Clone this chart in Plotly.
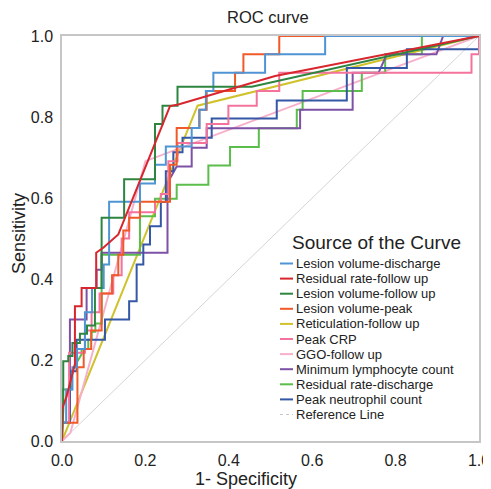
import plotly.graph_objects as go

# ---------------- data ----------------
names = ["Lesion volume-discharge", "Residual rate-follow up", "Lesion volume-follow up",
         "Lesion volume-peak", "Reticulation-follow up", "Peak CRP", "GGO-follow up",
         "Minimum lymphocyte count", "Residual rate-discharge", "Peak neutrophil count"]
colors = ["#4f94d4", "#d7262e", "#2e8540", "#f05a28", "#cfc22b",
          "#f4739c", "#f7b0cc", "#7d52a6", "#5bbd4b", "#3457a6"]

lv_dis_x = [0, 0, 0.01, 0.01, 0.025, 0.025, 0.036, 0.036, 0.055, 0.055, 0.072, 0.072, 0.1, 0.1,
            0.113, 0.113, 0.187, 0.187, 0.223, 0.223, 0.249, 0.249, 0.311, 0.311, 0.33, 0.33,
            0.345, 0.345, 0.363, 0.363, 0.487, 0.487, 0.631, 0.631, 1]
lv_dis_y = [0, 0.045, 0.045, 0.127, 0.127, 0.182, 0.182, 0.227, 0.227, 0.318, 0.318, 0.378, 0.378, 0.436,
            0.436, 0.591, 0.591, 0.636, 0.636, 0.682, 0.682, 0.727, 0.727, 0.773, 0.773, 0.818,
            0.818, 0.864, 0.864, 0.909, 0.909, 0.955, 0.955, 1, 1]

res_fu_x = [0, 0, 0.011, 0.031, 0.031, 0.047, 0.047, 0.082, 0.082, 0.099, 0.135, 0.259, 0.279, 0.511, 1]
res_fu_y = [0, 0.078, 0.11, 0.19, 0.333, 0.333, 0.378, 0.378, 0.465, 0.477, 0.51, 0.827, 0.831, 0.901, 1]

lv_fu_x = [0, 0.003, 0.003, 0.015, 0.015, 0.025, 0.025, 0.043, 0.043, 0.06, 0.06, 0.079, 0.079,
           0.095, 0.095, 0.149, 0.149, 0.223, 0.223, 0.241, 0.241, 0.277, 0.277, 0.455, 1]
lv_fu_y = [0, 0.078, 0.197, 0.197, 0.21, 0.21, 0.242, 0.242, 0.265, 0.265, 0.285, 0.285, 0.378,
           0.378, 0.551, 0.551, 0.646, 0.646, 0.783, 0.783, 0.828, 0.828, 0.875, 0.875, 1]

lv_peak_x = [0, 0, 0.037, 0.037, 0.052, 0.052, 0.07, 0.07, 0.095, 0.095, 0.12, 0.12, 0.135, 0.135,
             0.147, 0.147, 0.161, 0.161, 0.187, 0.187, 0.259, 0.259, 0.275, 0.275, 0.329, 0.329,
             0.347, 0.347, 0.415, 0.415, 0.435, 0.435, 0.521, 0.521, 1]
lv_peak_y = [0, 0.045, 0.045, 0.182, 0.182, 0.227, 0.227, 0.273, 0.273, 0.364, 0.364, 0.409, 0.409, 0.46,
             0.46, 0.52, 0.52, 0.551, 0.551, 0.591, 0.591, 0.682, 0.682, 0.773, 0.773, 0.818,
             0.818, 0.864, 0.864, 0.909, 0.909, 0.955, 0.955, 1, 1]

retic_fu_x = [0, 0.325, 1]
retic_fu_y = [0, 0.828, 1]

crp_x = [0, 0, 0.017, 0.017, 0.055, 0.055, 0.071, 0.071, 0.09, 0.09, 0.123, 0.123, 0.143, 0.143,
         0.161, 0.161, 0.223, 0.223, 0.237, 0.237, 0.255, 0.255, 0.277, 0.277, 0.347, 0.347,
         0.399, 0.399, 0.467, 0.467, 0.521, 0.521, 0.982, 0.982, 1, 1]
crp_y = [0, 0.045, 0.045, 0.218, 0.218, 0.273, 0.273, 0.318, 0.318, 0.364, 0.364, 0.409, 0.409, 0.5,
         0.5, 0.565, 0.565, 0.591, 0.591, 0.61, 0.61, 0.691, 0.691, 0.736, 0.736, 0.783,
         0.783, 0.828, 0.828, 0.864, 0.864, 0.909, 0.909, 0.955, 0.955, 1]

ggo_fu_x = [0, 0.02, 0.2, 1]
ggo_fu_y = [0, 0.02, 0.691, 1]

lymph_x = [0, 0, 0.019, 0.019, 0.059, 0.059, 0.083, 0.083, 0.095, 0.095, 0.253, 0.253, 0.275,
           0.311, 0.311, 0.347, 0.347, 0.571, 0.571, 0.697, 0.697, 0.759, 0.779, 0.898, 0.914, 1]
lymph_y = [0, 0.045, 0.045, 0.3, 0.3, 0.378, 0.378, 0.423, 0.423, 0.465, 0.465, 0.637, 0.678,
           0.678, 0.724, 0.724, 0.772, 0.772, 0.818, 0.818, 0.909, 0.909, 0.955, 0.955, 1, 1]

res_dis_x = [0, 0.002, 0.002, 0.023, 0.023, 0.047, 0.047, 0.063, 0.063, 0.071, 0.071, 0.08, 0.08,
             0.095, 0.095, 0.187, 0.187, 0.223, 0.223, 0.275, 0.275, 0.351, 0.351, 0.403, 0.403,
             0.472, 0.472, 0.563, 0.563, 0.577, 0.577, 0.719, 0.719, 0.775, 0.775, 0.863, 0.863, 1]
res_dis_y = [0, 0.045, 0.127, 0.127, 0.172, 0.214, 0.227, 0.227, 0.25, 0.25, 0.27, 0.27, 0.29,
             0.29, 0.46, 0.46, 0.555, 0.555, 0.598, 0.598, 0.633, 0.633, 0.68, 0.68, 0.726,
             0.726, 0.772, 0.772, 0.818, 0.818, 0.864, 0.864, 0.909, 0.909, 0.955, 0.955, 1, 1]

neut_x = [0, 0, 0.019, 0.019, 0.035, 0.035, 0.103, 0.103, 0.161, 0.161, 0.179, 0.179, 0.195, 0.195,
          0.211, 0.211, 0.237, 0.237, 0.249, 0.249, 0.267, 0.267, 0.289, 0.289, 0.359, 0.359,
          0.515, 0.515, 0.683, 0.683, 0.827, 0.827, 1, 1]
neut_y = [0, 0.045, 0.045, 0.172, 0.172, 0.25, 0.25, 0.3, 0.3, 0.345, 0.345, 0.436, 0.436, 0.485,
          0.485, 0.53, 0.53, 0.59, 0.59, 0.666, 0.666, 0.713, 0.713, 0.749, 0.749, 0.796,
          0.796, 0.841, 0.841, 0.921, 0.921, 0.967, 0.967, 1]

ref_x = [0, 1]
ref_y = [0, 1]

tick_vals = [0, 0.2, 0.4, 0.6, 0.8, 1.0]
tick_text = ["0.0", "0.2", "0.4", "0.6", "0.8", "1.0"]

series_x = [lv_dis_x, res_fu_x, lv_fu_x, lv_peak_x, retic_fu_x, crp_x, ggo_fu_x, lymph_x, res_dis_x, neut_x]
series_y = [lv_dis_y, res_fu_y, lv_fu_y, lv_peak_y, retic_fu_y, crp_y, ggo_fu_y, lymph_y, res_dis_y, neut_y]

# ---------------- layout geometry (window pixels) ----------------
OFF = 8                      # default page margin of the browser body
WIN_W, WIN_H = 491, 489
PL, PR, PT, PB = 62, 479, 36, 441   # plot box in window pixels
W, H = WIN_W - OFF, WIN_H - OFF
L, T = PL - OFF, PT - OFF
R, B = W - (PR - OFF), H - (PB - OFF)


def pxx(p):
    return (p - PL) / (PR - PL)


def pxy(p):
    return (PB - p) / (PB - PT)


FONT = "Liberation Sans, Arial, sans-serif"
TXT = "#222222"

fig = go.Figure()
fig.add_trace(go.Scatter(x=ref_x, y=ref_y, mode="lines", showlegend=False,
                         line=dict(color="#cfcfcf", width=0.9), hoverinfo="skip"))
draw_order = [4, 6, 8, 7, 9, 5, 3, 0, 2, 1]
for i in draw_order:
    fig.add_trace(go.Scatter(x=series_x[i], y=series_y[i], mode="lines", name=names[i],
                             showlegend=False, line=dict(color=colors[i], width=2)))

axis_common = dict(range=[0, 1], tickvals=tick_vals, ticktext=tick_text, showgrid=False,
                   zeroline=False, showline=True, linecolor="#c6c6c6", linewidth=1.5, mirror=True,
                   ticks="outside", ticklen=4, tickcolor="rgba(0,0,0,0)", automargin=False,
                   tickfont=dict(family=FONT, size=16, color=TXT))

annotations = [
    dict(text="ROC curve", x=pxx(268), y=pxy(17), xref="paper", yref="paper", showarrow=False,
         font=dict(family=FONT, size=16.5, color=TXT), xanchor="center", yanchor="middle"),
    dict(text="1- Specificity", x=pxx(246), y=pxy(479), xref="paper", yref="paper", showarrow=False,
         font=dict(family=FONT, size=18, color=TXT), xanchor="center", yanchor="middle"),
    dict(text="Sensitivity", x=pxx(19), y=pxy(234), xref="paper", yref="paper", showarrow=False,
         textangle=-90, font=dict(family=FONT, size=18, color=TXT), xanchor="center", yanchor="middle"),
    dict(text="Source of the Curve", x=pxx(290), y=pxy(243), xref="paper", yref="paper",
         showarrow=False, font=dict(family=FONT, size=19, color=TXT), xanchor="left", yanchor="middle"),
]
shapes = []
leg_names = names + ["Reference Line"]
leg_colors = colors + ["#c8c8c8"]
for k, nm in enumerate(leg_names):
    yy = 263.5 + 15.1 * k
    shapes.append(dict(type="line", xref="paper", yref="paper", x0=pxx(280), x1=pxx(293),
                       y0=pxy(yy), y1=pxy(yy),
                       line=dict(color=leg_colors[k], width=2 if k < 10 else 1,
                                 dash="solid" if k < 10 else "dot")))
    annotations.append(dict(text=nm, x=pxx(294), y=pxy(yy), xref="paper", yref="paper",
                            showarrow=False, xanchor="left", yanchor="middle",
                            font=dict(family=FONT, size=13, color=TXT)))

fig.update_layout(
    width=W, height=H, margin=dict(l=L, r=R, t=T, b=B, pad=0),
    paper_bgcolor="white", plot_bgcolor="white",
    xaxis=axis_common, yaxis=axis_common,
    annotations=annotations, shapes=shapes, showlegend=False,
)
fig.write_html("out.html")
